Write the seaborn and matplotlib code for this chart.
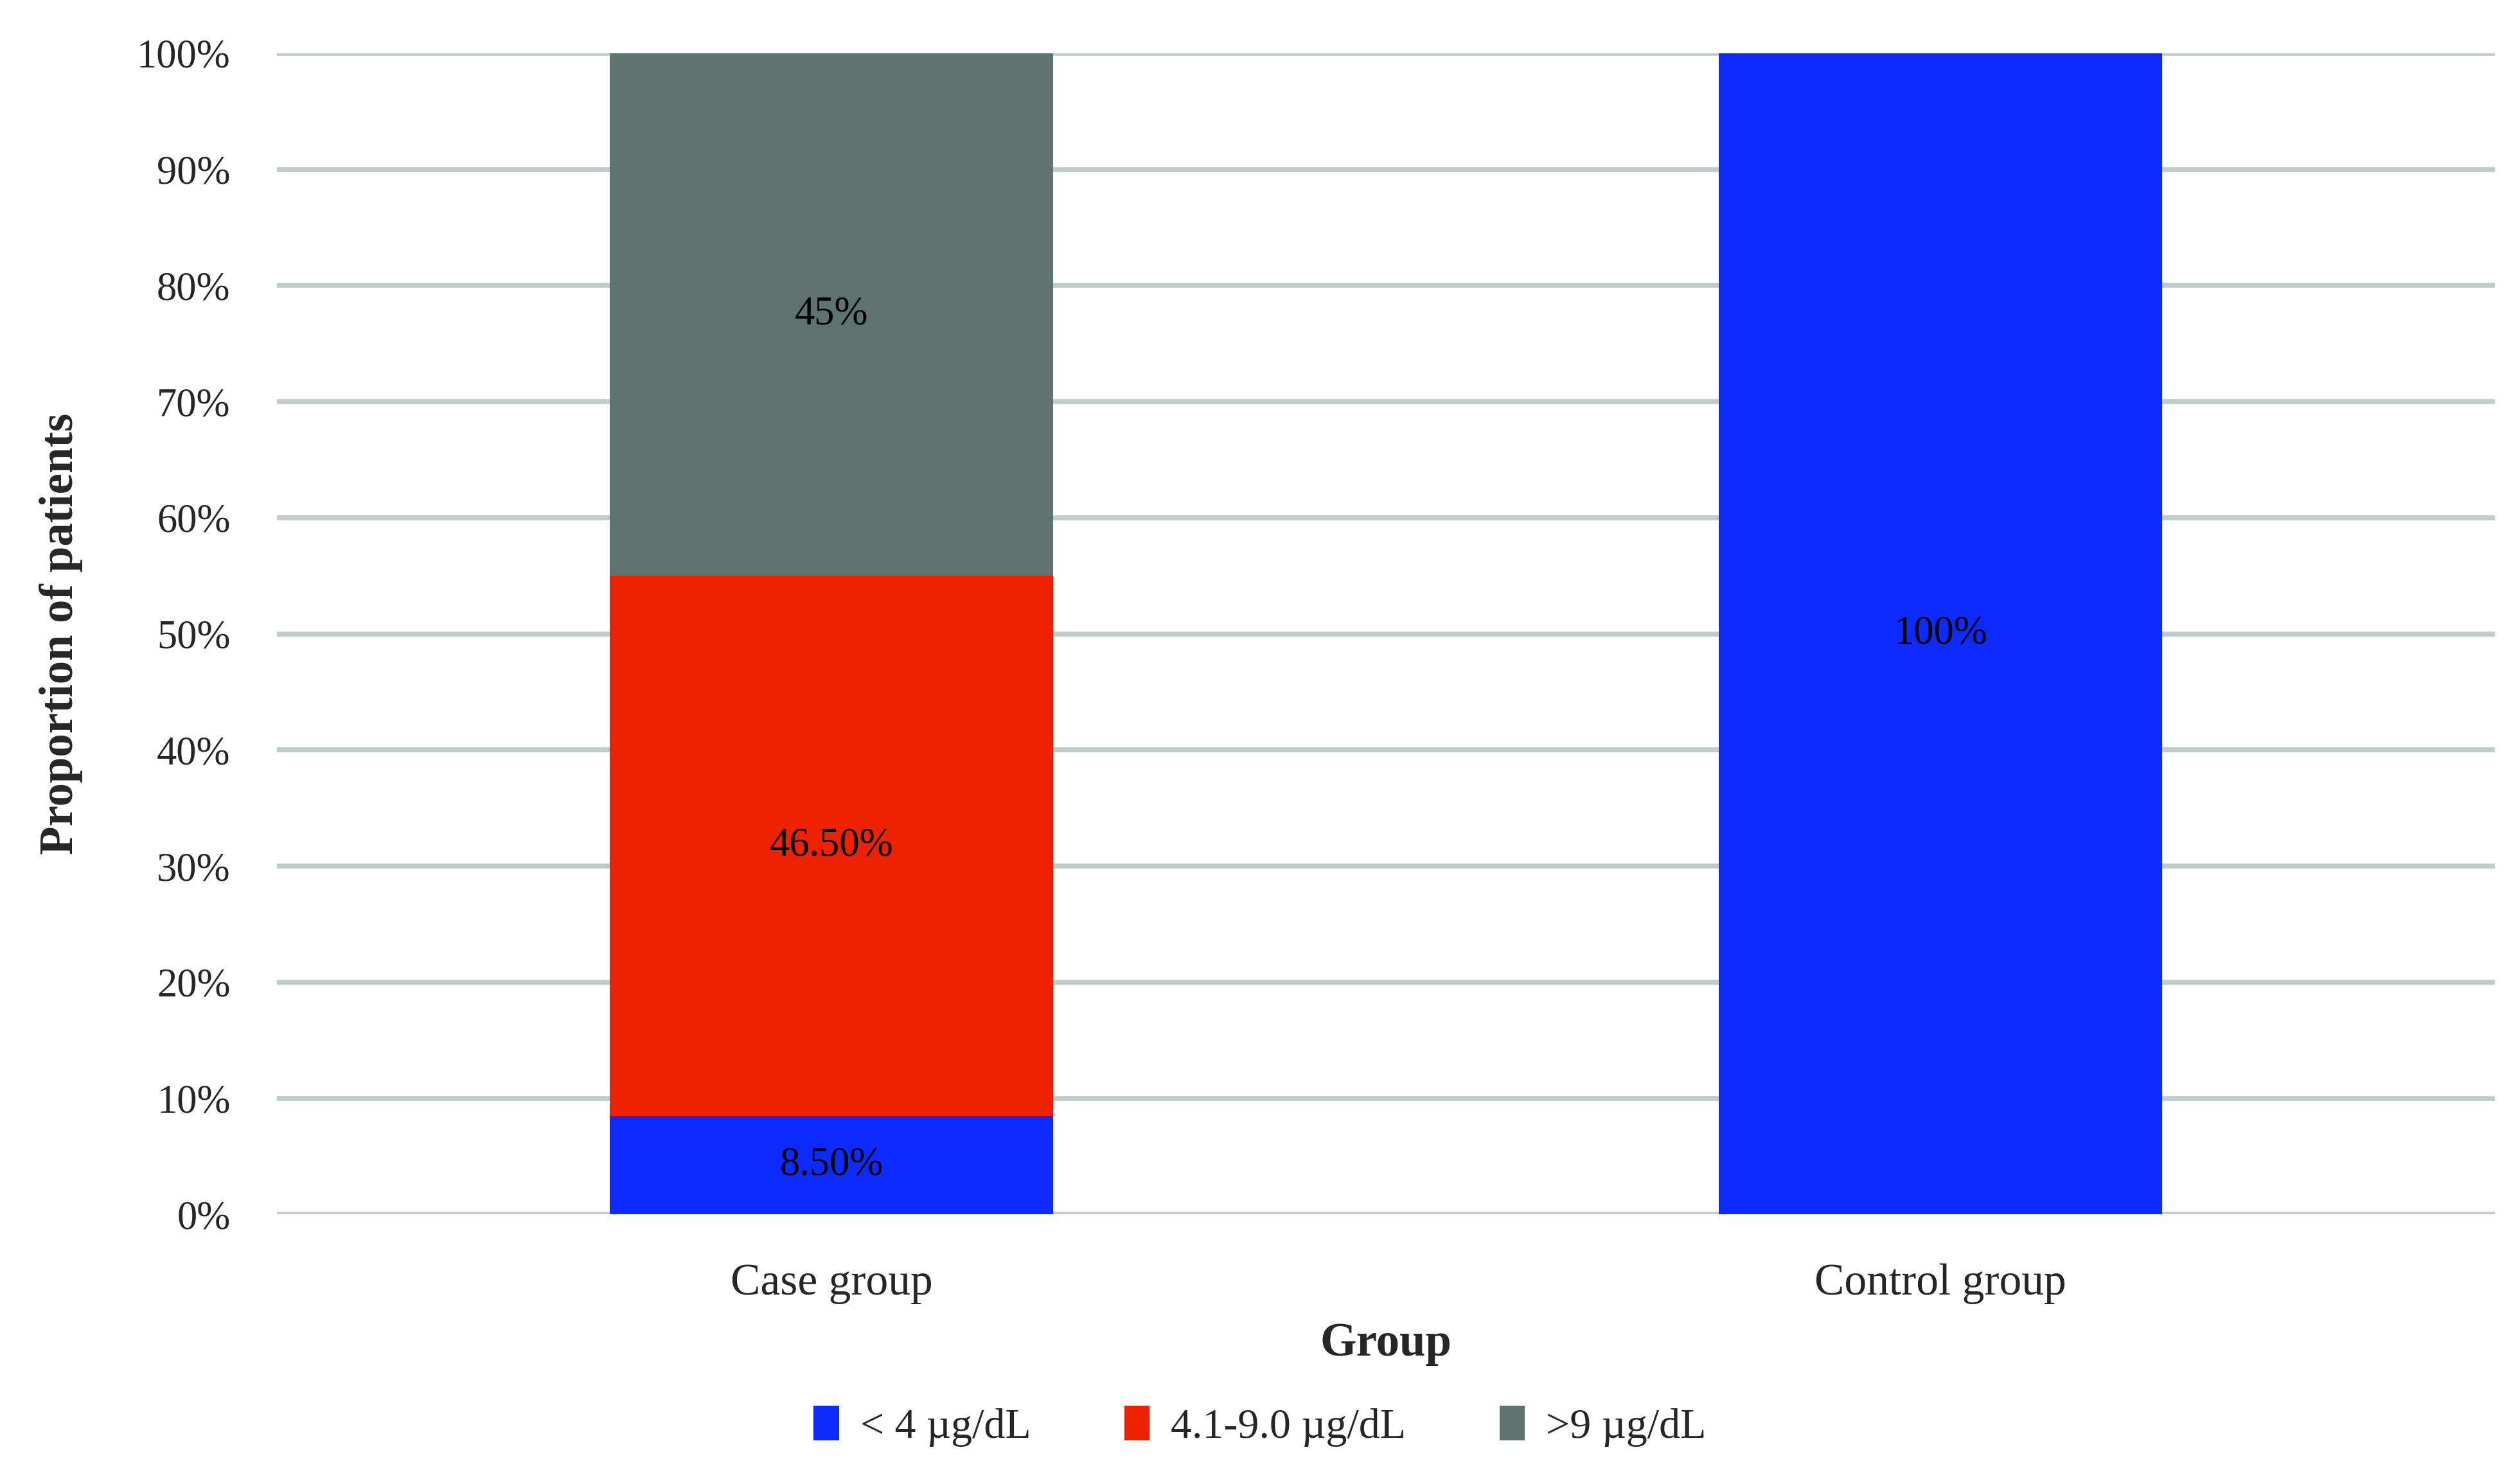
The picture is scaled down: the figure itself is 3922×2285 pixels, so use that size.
"""
Stacked bar chart: proportion of patients by blood level category, case vs control.
"""

import matplotlib
matplotlib.use('Agg')
import matplotlib.pyplot as plt
from matplotlib.patches import Patch
import numpy as np
import pandas as pd
import seaborn as sns

# ── DATA ──────────────────────────────────────────────────────────────
groups      = ["Case group", "Control group"]
low_vals    = [8.5, 100.0]     # < 4 µg/dL
mid_vals    = [46.5, 0.0]      # 4.1-9.0 µg/dL
high_vals   = [45.0, 0.0]      # > 9 µg/dL
low_labels  = ["8.50%", "100%"]
mid_labels  = ["46.50%", ""]
high_labels = ["45%", ""]
series_names = ["< 4 \u00b5g/dL", "4.1-9.0 \u00b5g/dL", ">9 \u00b5g/dL"]
y_ticks     = [0, 10, 20, 30, 40, 50, 60, 70, 80, 90, 100]

# ── STYLE ─────────────────────────────────────────────────────────────
BLUE  = "#0D2BFF"
RED   = "#EE2200"
GRAY  = "#5E7370"
GRID  = "#BFCBC9"

sns.set_theme(style="whitegrid")
plt.rcParams['font.family'] = ['Liberation Serif', 'DejaVu Serif']

df = pd.DataFrame({"group": groups, "low": low_vals,
                   "mid": mid_vals, "high": high_vals})
df["cum_mid"]  = df["low"] + df["mid"]
df["cum_high"] = df["cum_mid"] + df["high"]

fig, ax = plt.subplots(figsize=(15.688, 9.14), dpi=250)
fig.subplots_adjust(left=0.110, right=0.990, top=0.9637, bottom=0.1727)

# stacked by overlaying cumulative totals (tallest first)
for col, color in [("cum_high", GRAY), ("cum_mid", RED), ("low", BLUE)]:
    sns.barplot(data=df, x="group", y=col, color=color, width=0.4,
                saturation=1, linewidth=0, ax=ax, zorder=3)

# segment labels at segment centres
bottoms = np.zeros(len(groups))
for vals, labs in [(low_vals, low_labels), (mid_vals, mid_labels),
                   (high_vals, high_labels)]:
    for i, (v, lab) in enumerate(zip(vals, labs)):
        if v > 0 and lab:
            ax.text(i, bottoms[i] + v / 2, lab, ha='center', va='center',
                    fontsize=18, color='black', zorder=5)
    bottoms += np.array(vals)

ax.set_xlim(-0.5, 1.5)
ax.set_ylim(0, 100)
ax.set_yticks(y_ticks)
ax.set_yticklabels([f"{t}%" for t in y_ticks])
ax.set_axisbelow(True)
ax.yaxis.grid(True, color=GRID, linewidth=2.2)
ax.xaxis.grid(False)
for s in ax.spines.values():
    s.set_visible(False)
ax.tick_params(axis='y', length=0, pad=21, labelsize=18)
ax.tick_params(axis='x', length=0, pad=22, labelsize=20)

ax.set_xlabel("Group", fontsize=21, fontweight='bold', labelpad=8)
ax.set_ylabel("Proportion of patients", fontsize=21, fontweight='bold',
              labelpad=24)

handles = [Patch(facecolor=c, edgecolor='none') for c in (BLUE, RED, GRAY)]
fig.legend(handles, series_names, loc='center', bbox_to_anchor=(0.5, 0.0286),
           ncol=3, frameon=False, fontsize=19, handlelength=0.6,
           handleheight=0.9, handletextpad=0.5, columnspacing=2.2)

plt.savefig("out.png", dpi=250)
